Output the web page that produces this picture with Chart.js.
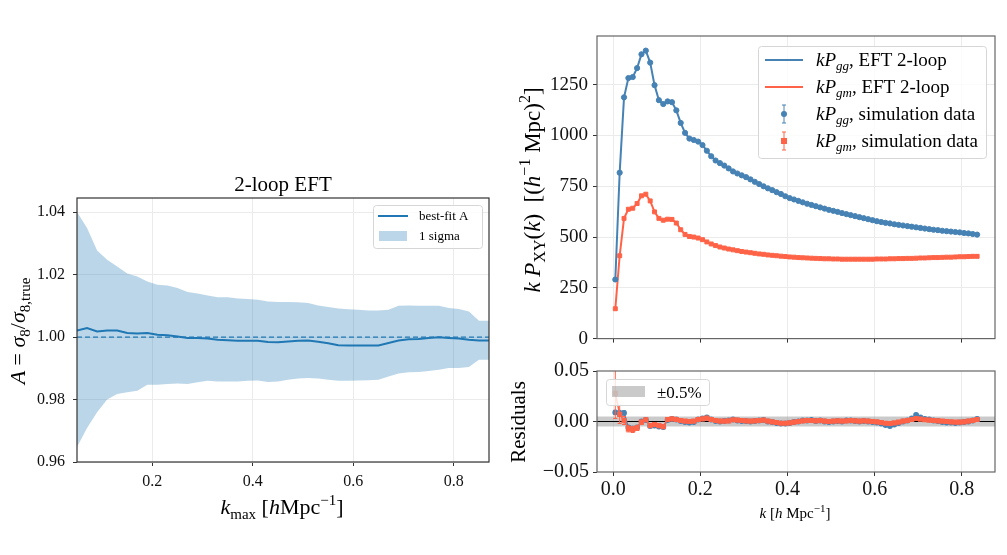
<!DOCTYPE html>
<html>
<head>
<meta charset="utf-8">
<script src="https://cdn.jsdelivr.net/npm/chart.js@4.4.0/dist/chart.umd.min.js"></script>
<style>
  body { margin: 0; width: 1007px; height: 555px; background: #fff; position: relative; overflow: hidden; }
  canvas { position: absolute; }
</style>
</head>
<body>
<canvas id="fitChart" width="500" height="370" style="left:0;top:160px"></canvas>
<canvas id="powerChart" width="507" height="355" style="left:500px;top:0"></canvas>
<canvas id="residChart" width="507" height="200" style="left:500px;top:355px"></canvas>
<script>
// ---- left panel: best-fit amplitude vs kmax ----
const kmaxValues = [0.05, 0.07, 0.09, 0.11, 0.13, 0.15, 0.17, 0.19, 0.21, 0.23,
  0.25, 0.27, 0.29, 0.31, 0.33, 0.35, 0.37, 0.39, 0.41, 0.43,
  0.45, 0.47, 0.49, 0.51, 0.53, 0.55, 0.57, 0.59, 0.61, 0.63,
  0.65, 0.67, 0.69, 0.71, 0.73, 0.75, 0.77, 0.79, 0.81, 0.83, 0.85, 0.87];
const bestFitA = [1.0021, 1.0029, 1.0018, 1.0021, 1.0021, 1.0013, 1.0011, 1.0013, 1.0007, 1.0006,
  1.0002, 0.9997, 0.9997, 0.9995, 0.9991, 0.9990, 0.9988, 0.9988, 0.9988, 0.9984,
  0.9983, 0.9986, 0.9988, 0.9989, 0.9985, 0.9980, 0.9974, 0.9973, 0.9973, 0.9973,
  0.9973, 0.9981, 0.9989, 0.9993, 0.9994, 0.9997, 0.9999, 0.9997, 0.9995, 0.9991, 0.9989, 0.9989];
const sigmaUpper = [1.0400, 1.0349, 1.0277, 1.0247, 1.0226, 1.0203, 1.0194, 1.0178, 1.0167, 1.0165,
  1.0157, 1.0144, 1.0139, 1.0133, 1.0127, 1.0127, 1.0123, 1.0122, 1.0119, 1.0114,
  1.0112, 1.0112, 1.0111, 1.0109, 1.0101, 1.0096, 1.0091, 1.0089, 1.0087, 1.0085,
  1.0085, 1.0087, 1.0100, 1.0101, 1.0100, 1.0100, 1.0100, 1.0093, 1.0090, 1.0082, 1.0052, 1.0052];
const sigmaLower = [0.9648, 0.9709, 0.9759, 0.9800, 0.9818, 0.9823, 0.9828, 0.9847, 0.9847, 0.9850,
  0.9851, 0.9850, 0.9855, 0.9860, 0.9858, 0.9858, 0.9858, 0.9860, 0.9861, 0.9856,
  0.9858, 0.9863, 0.9867, 0.9869, 0.9867, 0.9863, 0.9860, 0.9860, 0.9861, 0.9862,
  0.9863, 0.9874, 0.9883, 0.9887, 0.9888, 0.9891, 0.9895, 0.9901, 0.9901, 0.9904, 0.9927, 0.9927];
const fitXTicks = [0.2, 0.4, 0.6, 0.8];
const fitYTicks = [0.96, 0.98, 1.00, 1.02, 1.04];

// ---- right panels: power spectra and residuals ----
const kValues = [0.005, 0.015, 0.025, 0.035, 0.045, 0.055, 0.065, 0.075, 0.085, 0.095,
  0.105, 0.115, 0.125, 0.135, 0.145, 0.155, 0.165, 0.175, 0.185, 0.195,
  0.205, 0.215, 0.225, 0.235, 0.245, 0.255, 0.265, 0.275, 0.285, 0.295,
  0.305, 0.315, 0.325, 0.335, 0.345, 0.355, 0.365, 0.375, 0.385, 0.395,
  0.405, 0.415, 0.425, 0.435, 0.445, 0.455, 0.465, 0.475, 0.485, 0.495,
  0.505, 0.515, 0.525, 0.535, 0.545, 0.555, 0.565, 0.575, 0.585, 0.595,
  0.605, 0.615, 0.625, 0.635, 0.645, 0.655, 0.665, 0.675, 0.685, 0.695,
  0.705, 0.715, 0.725, 0.735, 0.745, 0.755, 0.765, 0.775, 0.785, 0.795,
  0.805, 0.815, 0.825, 0.835];
const kPgg = [291, 817, 1188, 1283, 1288, 1332, 1400, 1418, 1359, 1248,
  1174, 1155, 1168, 1164, 1124, 1062, 1013, 985, 978, 970,
  953, 925, 898, 877, 864, 852, 838, 823, 813, 804,
  795, 784, 772, 761, 750, 740, 731, 721, 712, 701,
  692, 685, 678, 671, 664, 658, 652, 646, 640, 634,
  629, 624, 618, 613, 608, 603, 598, 593, 588, 583,
  578, 574, 570, 567, 563, 560, 557, 554, 551, 548,
  545, 542, 539, 536, 534, 531, 529, 527, 525, 523,
  520, 518, 515, 512];
const kPgm = [147, 408, 592, 637, 642, 665, 703, 711, 678, 624,
  592, 583, 588, 587, 569, 536, 513, 503, 500, 495,
  487, 476, 466, 458, 451, 446, 441, 437, 433, 429,
  426, 423, 420, 417, 415, 412, 410, 408, 406, 404,
  402, 401, 399, 398, 397, 396, 395, 394, 393, 393,
  392, 392, 391, 391, 391, 391, 391, 391, 391, 391,
  392, 392, 392, 393, 393, 394, 394, 395, 395, 396,
  397, 397, 398, 399, 399, 400, 401, 401, 402, 403,
  403, 404, 405, 405];
const residGG = [0.0090, 0.0080, 0.0085, -0.0060, -0.0070, -0.0060, 0.0000, 0.0015, -0.0045, -0.0040,
  -0.0050, -0.0055, 0.0015, 0.0025, 0.0020, 0.0005, -0.0005, -0.0010, -0.0005, 0.0020,
  0.0030, 0.0040, 0.0020, 0.0005, 0.0000, 0.0005, 0.0010, 0.0020, 0.0010, 0.0005,
  0.0005, 0.0000, 0.0005, 0.0010, 0.0015, 0.0000, -0.0005, -0.0015, -0.0020, -0.0020,
  -0.0015, -0.0005, 0.0000, 0.0010, 0.0010, 0.0015, 0.0005, 0.0010, 0.0000, -0.0005,
  0.0000, 0.0005, 0.0000, 0.0010, 0.0010, 0.0005, 0.0000, 0.0005, 0.0000, -0.0005,
  -0.0010, -0.0020, -0.0035, -0.0045, -0.0030, -0.0015, 0.0000, 0.0010, 0.0030, 0.0065,
  0.0040, 0.0025, 0.0020, 0.0010, 0.0005, -0.0005, -0.0010, -0.0010, -0.0015, -0.0010,
  -0.0005, 0.0000, 0.0010, 0.0025];
const residGM = [0.0280, 0.0070, 0.0010, -0.0073, -0.0079, -0.0063, -0.0007, 0.0017, -0.0040, -0.0030,
  -0.0040, -0.0050, 0.0020, 0.0026, 0.0020, 0.0010, 0.0003, 0.0000, 0.0003, 0.0020,
  0.0026, 0.0033, 0.0020, 0.0010, 0.0003, 0.0003, 0.0007, 0.0017, 0.0013, 0.0010,
  0.0007, 0.0003, 0.0007, 0.0010, 0.0013, 0.0003, -0.0003, -0.0010, -0.0017, -0.0017,
  -0.0013, -0.0007, 0.0000, 0.0007, 0.0010, 0.0010, 0.0007, 0.0010, 0.0003, 0.0000,
  0.0003, 0.0007, 0.0003, 0.0007, 0.0010, 0.0007, 0.0003, 0.0007, 0.0003, 0.0000,
  -0.0003, -0.0010, -0.0017, -0.0020, -0.0013, -0.0007, 0.0003, 0.0010, 0.0020, 0.0030,
  0.0023, 0.0017, 0.0013, 0.0010, 0.0007, 0.0003, 0.0000, -0.0003, -0.0007, -0.0007,
  -0.0003, 0.0003, 0.0010, 0.0020];
// error bars only visible on the first few bins
const errGG = [0.002, 0.003, 0.002, 0.002, 0.002, 0.0015, 0.0015, 0.001];
const errGM = [0.025, 0.009, 0.004, 0.003, 0.003, 0.0025, 0.002, 0.0015];
const powerYTicks = [0, 250, 500, 750, 1000, 1250];
const kTicks = [0, 0.2, 0.4, 0.6, 0.8];
const residYTicks = [-0.05, 0, 0.05];

const FONT = '"Liberation Serif", "DejaVu Serif", serif';
const BLUE = '#4682b4';
const RED = '#ff6347';
const TAB_BLUE = '#1f77b4';

const pts = (xs, ys) => xs.map((x, i) => ({ x: x, y: ys[i] }));
const tx = (t, o) => Object.assign({ t: t }, o || {});

// draw text with italic / sub / sup pieces
function drawRich(ctx, parts, x, y, size, align, angle) {
  ctx.save();
  ctx.translate(x, y);
  if (angle) ctx.rotate(angle);
  ctx.fillStyle = '#000';
  ctx.textBaseline = 'alphabetic';
  const fontOf = p => (p.i ? 'italic ' : '') + Math.round(size * (p.s ? 0.7 : 1)) + 'px ' + FONT;
  let total = 0;
  parts.forEach(p => { ctx.font = fontOf(p); total += ctx.measureText(p.t).width; });
  let cx = align === 'center' ? -total / 2 : (align === 'right' ? -total : 0);
  parts.forEach(p => {
    ctx.font = fontOf(p);
    const dy = p.s === 'sub' ? size * 0.22 : (p.s === 'sup' ? -size * 0.4 : 0);
    ctx.fillText(p.t, cx, size * 0.33 + dy);
    cx += ctx.measureText(p.t).width;
  });
  ctx.restore();
}

function drawFrame(chart, color) {
  const { ctx, chartArea: a } = chart;
  ctx.save();
  ctx.strokeStyle = color;
  ctx.lineWidth = 1.2;
  ctx.strokeRect(a.left, a.top, a.right - a.left, a.bottom - a.top);
  ctx.restore();
}

function legendBox(ctx, x, y, w, h) {
  ctx.save();
  ctx.fillStyle = 'rgba(255,255,255,0.8)';
  ctx.strokeStyle = '#d6d6d6';
  ctx.lineWidth = 1;
  ctx.beginPath();
  ctx.roundRect(x + 0.5, y + 0.5, w, h, 3);
  ctx.fill();
  ctx.stroke();
  ctx.restore();
}

function errMarker(ctx, x, y, color, square) {
  ctx.save();
  ctx.strokeStyle = color;
  ctx.fillStyle = color;
  ctx.lineWidth = 1;
  ctx.beginPath();
  ctx.moveTo(x, y - 9); ctx.lineTo(x, y + 9);
  ctx.moveTo(x - 2, y - 9); ctx.lineTo(x + 2, y - 9);
  ctx.moveTo(x - 2, y + 9); ctx.lineTo(x + 2, y + 9);
  ctx.stroke();
  ctx.beginPath();
  if (square) ctx.rect(x - 3, y - 3, 6, 6);
  else ctx.arc(x, y, 3, 0, Math.PI * 2);
  ctx.fill();
  ctx.restore();
}

// vertical error bars for datasets that carry an errs array
const errorBars = {
  id: 'errorBars',
  beforeDatasetDraw(chart, args) {
    const ds = chart.data.datasets[args.index];
    if (!ds.errs) return;
    const { ctx, chartArea: a, scales: { x, y } } = chart;
    ctx.save();
    ctx.beginPath();
    ctx.rect(a.left, a.top, a.right - a.left, a.bottom - a.top);
    ctx.clip();
    ctx.strokeStyle = ds.borderColor;
    ctx.lineWidth = 1;
    ds.data.forEach((p, i) => {
      const e = ds.errs[i];
      if (!e) return;
      const px = x.getPixelForValue(p.x);
      const y1 = y.getPixelForValue(p.y - e);
      const y2 = y.getPixelForValue(p.y + e);
      ctx.beginPath();
      ctx.moveTo(px, y1); ctx.lineTo(px, y2);
      ctx.moveTo(px - 2, y1); ctx.lineTo(px + 2, y1);
      ctx.moveTo(px - 2, y2); ctx.lineTo(px + 2, y2);
      ctx.stroke();
    });
    ctx.restore();
  }
};

function axisBase(min, max, tickList, fmt, size, pad, extent, isX) {
  return {
    type: 'linear',
    min: min,
    max: max,
    afterBuildTicks: s => { s.ticks = tickList.map(v => ({ value: v })); },
    afterFit: s => { if (isX) s.height = extent; else s.width = extent; },
    ticks: { color: '#111', font: { family: FONT, size: size }, padding: pad, maxRotation: 0, autoSkip: false, callback: fmt },
    grid: { color: '#ebebeb', lineWidth: 1, tickLength: 4, tickColor: '#333' },
    border: { display: false }
  };
}

// ---------- left chart ----------
const fitDecor = {
  id: 'fitDecor',
  afterDraw(chart) {
    const ctx = chart.ctx;
    drawFrame(chart, '#333');
    drawRich(ctx, [tx('2-loop EFT')], 283, 24, 21, 'center');
    drawRich(ctx, [tx('k', { i: 1 }), tx('max', { s: 'sub' }), tx(' ['), tx('h', { i: 1 }), tx('Mpc'), tx('−1', { s: 'sup' }), tx(']')], 282, 347, 22, 'center');
    drawRich(ctx, [tx('A', { i: 1 }), tx(' = '), tx('σ', { i: 1 }), tx('8', { s: 'sub' }), tx('/'), tx('σ', { i: 1 }), tx('8,true', { s: 'sub' })], 18, 171, 22, 'center', -Math.PI / 2);
    legendBox(ctx, 373, 45, 109, 43);
    ctx.save();
    ctx.strokeStyle = TAB_BLUE; ctx.lineWidth = 2;
    ctx.beginPath(); ctx.moveTo(378, 56); ctx.lineTo(408, 56); ctx.stroke();
    ctx.fillStyle = 'rgba(31,119,180,0.3)';
    ctx.fillRect(379, 71, 28, 10);
    ctx.restore();
    drawRich(ctx, [tx('best-fit A')], 419, 56, 13, 'left');
    drawRich(ctx, [tx('1 sigma')], 419, 76, 13, 'left');
  }
};

new Chart(document.getElementById('fitChart'), {
  type: 'line',
  data: {
    datasets: [
      { label: 'upper', data: pts(kmaxValues, sigmaUpper), borderColor: 'rgba(0,0,0,0)', pointRadius: 0, fill: '+1', backgroundColor: 'rgba(31,119,180,0.3)', order: 3 },
      { label: 'lower', data: pts(kmaxValues, sigmaLower), borderColor: 'rgba(0,0,0,0)', pointRadius: 0, fill: false, order: 3 },
      { label: 'true', data: [{ x: 0.05, y: 1 }, { x: 0.87, y: 1 }], borderColor: TAB_BLUE, borderWidth: 1.3, borderDash: [5, 3], pointRadius: 0, fill: false, order: 1 },
      { label: 'best-fit A', data: pts(kmaxValues, bestFitA), borderColor: TAB_BLUE, borderWidth: 2, pointRadius: 0, fill: false, order: 0 }
    ]
  },
  options: {
    responsive: false,
    animation: false,
    layout: { padding: { top: 38, right: 11, left: 0, bottom: 0 } },
    plugins: { legend: { display: false }, tooltip: { enabled: false } },
    scales: {
      x: axisBase(0.05, 0.87, fitXTicks, v => v.toFixed(1), 16, 6, 68, true),
      y: axisBase(0.96, 1.0445, fitYTicks, v => v.toFixed(2), 16, 8, 77, false)
    }
  },
  plugins: [fitDecor]
});

// ---------- top right chart ----------
const powerDecor = {
  id: 'powerDecor',
  afterDraw(chart) {
    const ctx = chart.ctx;
    drawFrame(chart, '#666');
    drawRich(ctx, [tx('k', { i: 1 }), tx(' '), tx('P', { i: 1 }), tx('XY', { s: 'sub' }), tx('('), tx('k', { i: 1 }), tx(')  [('),
      tx('h', { i: 1 }), tx('−1', { s: 'sup' }), tx(' Mpc)'), tx('2', { s: 'sup' }), tx(']')], 32, 190, 23, 'center', -Math.PI / 2);
    legendBox(ctx, 258, 46, 228, 112);
    ctx.save();
    ctx.lineWidth = 2;
    ctx.strokeStyle = BLUE;
    ctx.beginPath(); ctx.moveTo(265, 60); ctx.lineTo(303, 60); ctx.stroke();
    ctx.strokeStyle = RED;
    ctx.beginPath(); ctx.moveTo(265, 87); ctx.lineTo(303, 87); ctx.stroke();
    ctx.restore();
    errMarker(ctx, 284, 114, BLUE, false);
    errMarker(ctx, 284, 141, RED, true);
    const labels = [['gg', ', EFT 2-loop'], ['gm', ', EFT 2-loop'], ['gg', ', simulation data'], ['gm', ', simulation data']];
    labels.forEach((l, i) => {
      drawRich(ctx, [tx('kP', { i: 1 }), tx(l[0], { i: 1, s: 'sub' }), tx(l[1])], 316, 60 + i * 27, 19, 'left');
    });
  }
};

const powerX = axisBase(-0.037, 0.876, kTicks, v => v.toFixed(1), 19, 3, 15, true);
powerX.ticks.display = false;

new Chart(document.getElementById('powerChart'), {
  type: 'line',
  data: {
    datasets: [
      { label: 'kPgg, EFT 2-loop', data: pts(kValues, kPgg), borderColor: BLUE, borderWidth: 2, pointRadius: 0, fill: false, order: 3 },
      { label: 'kPgm, EFT 2-loop', data: pts(kValues, kPgm), borderColor: RED, borderWidth: 2, pointRadius: 0, fill: false, order: 2 },
      { label: 'kPgg, simulation data', data: pts(kValues, kPgg), showLine: false, pointStyle: 'circle', pointRadius: 2.6, pointBackgroundColor: BLUE, pointBorderColor: BLUE, pointBorderWidth: 1, borderColor: BLUE, order: 1 },
      { label: 'kPgm, simulation data', data: pts(kValues, kPgm), showLine: false, pointStyle: 'rect', pointRadius: 2.8, pointBackgroundColor: RED, pointBorderColor: RED, pointBorderWidth: 1, borderColor: RED, order: 0 }
    ]
  },
  options: {
    responsive: false,
    animation: false,
    layout: { padding: { top: 36, right: 12, left: 0, bottom: 0 } },
    plugins: { legend: { display: false }, tooltip: { enabled: false } },
    scales: {
      x: powerX,
      y: axisBase(0, 1490, powerYTicks, v => String(v), 19, 5, 97, false)
    }
  },
  plugins: [powerDecor]
});

// ---------- residual chart ----------
const residDecor = {
  id: 'residDecor',
  afterDraw(chart) {
    const ctx = chart.ctx;
    drawFrame(chart, '#666');
    drawRich(ctx, [tx('Residuals')], 18, 67, 21, 'center', -Math.PI / 2);
    drawRich(ctx, [tx('k', { i: 1 }), tx(' ['), tx('h', { i: 1 }), tx(' Mpc'), tx('−1', { s: 'sup' }), tx(']')], 295, 158, 15, 'center');
    legendBox(ctx, 106, 24, 103, 26);
    ctx.save();
    ctx.fillStyle = 'rgba(128,128,128,0.42)';
    ctx.fillRect(112, 31, 33, 11);
    ctx.restore();
    drawRich(ctx, [tx('±0.5%')], 157, 37, 17, 'left');
  }
};

const residX = axisBase(-0.037, 0.876, kTicks, v => v.toFixed(1), 20, 2, 83, true);
const residY = axisBase(-0.05, 0.05, residYTicks, v => v === 0 ? '0.00' : (v < 0 ? '−' : '') + Math.abs(v).toFixed(2), 20, 4, 97, false);
residY.grid.color = 'rgba(0,0,0,0)';

new Chart(document.getElementById('residChart'), {
  type: 'line',
  data: {
    datasets: [
      { label: 'band hi', data: [{ x: -0.1, y: 0.005 }, { x: 1, y: 0.005 }], borderColor: 'rgba(0,0,0,0)', pointRadius: 0, fill: '+1', backgroundColor: 'rgba(128,128,128,0.42)', order: 5 },
      { label: 'band lo', data: [{ x: -0.1, y: -0.005 }, { x: 1, y: -0.005 }], borderColor: 'rgba(0,0,0,0)', pointRadius: 0, fill: false, order: 5 },
      { label: 'zero', data: [{ x: -0.1, y: 0 }, { x: 1, y: 0 }], borderColor: '#000', borderWidth: 1, pointRadius: 0, fill: false, order: 4 },
      { label: 'gg', data: pts(kValues, residGG), errs: errGG, borderColor: BLUE, borderWidth: 1.5, pointStyle: 'circle', pointRadius: 2.2, pointBackgroundColor: BLUE, pointBorderColor: BLUE, fill: false, order: 1 },
      { label: 'gm', data: pts(kValues, residGM), errs: errGM, borderColor: RED, borderWidth: 1.5, pointStyle: 'rect', pointRadius: 2.6, pointBackgroundColor: RED, pointBorderColor: RED, fill: false, order: 0 }
    ]
  },
  options: {
    responsive: false,
    animation: false,
    clip: true,
    layout: { padding: { top: 16, right: 12, left: 0, bottom: 0 } },
    plugins: { legend: { display: false }, tooltip: { enabled: false } },
    scales: { x: residX, y: residY }
  },
  plugins: [errorBars, residDecor]
});
</script>
</body>
</html>
